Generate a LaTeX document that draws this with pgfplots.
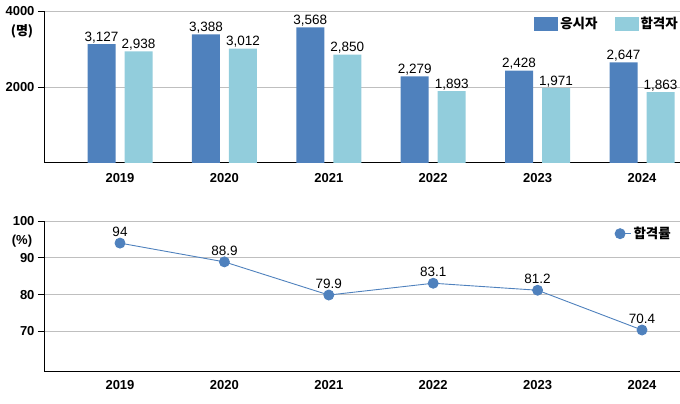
\documentclass[border=0pt]{standalone}
\usepackage{fontspec}
\setmainfont{Liberation Sans}
\newfontfamily\kr{Noto Sans CJK KR}
\usepackage{pgfplots}
\pgfplotsset{compat=1.18}
\definecolor{dkb}{HTML}{4F81BD}
\definecolor{ltb}{HTML}{92CDDC}
\definecolor{grd}{HTML}{BFBFBF}
\begin{document}
\begin{tikzpicture}[x=1pt,y=1pt]
\useasboundingbox (0,0) rectangle (680,404);
\pgfplotsset{common/.style={
 scale only axis, width=636pt, xmin=-0.728, xmax=5.364,
 xtick={0,...,5}, xticklabels={2019,2020,2021,2022,2023,2024},
 xtick style={draw=none},
 axis x line*=bottom, axis y line*=left, axis line style={-, black, line width=1pt},
 ymajorgrids, grid style={grd, line width=0.8pt},
 tick align=outside, major tick length=6pt, ytick style={black, line width=0.8pt},
 ticklabel style={font=\fontsize{13}{15}\selectfont\bfseries},
 /pgf/number format/assume math mode=true,
 /pgf/number format/1000 sep={,},
 yticklabel style={/pgf/number format/1000 sep={}},
 clip=false,
}}
\begin{axis}[common, at={(44pt,241pt)}, anchor=south west, height=152pt,
 ymin=0, ymax=4000, ytick={2000,4000},
 legend style={at={(1,1)}, anchor=north east, yshift=-4pt, draw=none, fill=none,
   legend columns=2, font=\kr\fontsize{13.5}{15}\selectfont\bfseries,
   /tikz/every even column/.style={column sep=15pt}, inner sep=0pt, cells={anchor=west}},
 xticklabel style={yshift=-1pt}]
\addplot[ybar, bar width=28pt, bar shift=-18.5pt, fill=dkb, draw=none,
  nodes near coords, nodes near coords style={font=\fontsize{13.5}{15}\selectfont, black, inner sep=1pt, xshift=-18.5pt},
  legend image code/.code={\fill[dkb] (0pt,-7pt) rectangle (24pt,7pt);}]
  coordinates {(0,3127)(1,3388)(2,3568)(3,2279)(4,2428)(5,2647)};
\addlegendentry{응시자}
\addplot[ybar, bar width=28pt, bar shift=18.5pt, fill=ltb, draw=none,
  nodes near coords, nodes near coords style={font=\fontsize{13.5}{15}\selectfont, black, inner sep=1pt, xshift=18.5pt},
  legend image code/.code={\fill[ltb] (0pt,-7pt) rectangle (24pt,7pt);}]
  coordinates {(0,2938)(1,3012)(2,2850)(3,1893)(4,1971)(5,1863)};
\addlegendentry{합격자}
\node[font=\kr\fontsize{13}{15}\selectfont\bfseries] at (rel axis cs:0,1) [xshift=-22pt, yshift=-20pt] {(명)};
\end{axis}
\begin{axis}[common, at={(44pt,32pt)}, anchor=south west, height=151pt,
 ymin=59, ymax=100, ytick={70,80,90,100},
 legend style={at={(1,1)}, anchor=north east, yshift=-4pt, xshift=-7pt, draw=none, fill=none,
   font=\kr\fontsize{13.5}{15}\selectfont\bfseries, inner sep=0pt, cells={anchor=west}},
 xticklabel style={yshift=1pt}]
\addplot[dkb, line width=0.9pt, mark=*, mark size=5pt, mark options={fill=dkb, draw=dkb},
  nodes near coords, nodes near coords style={font=\fontsize{13.5}{15}\selectfont, black, inner sep=1pt, yshift=5pt},
  legend image code/.code={\fill[dkb] (5pt,0pt) circle (5pt); \path (0pt,0pt) -- (16pt,0pt);}]
  coordinates {(0,94)(1,88.9)(2,79.9)(3,83.1)(4,81.2)(5,70.4)};
\addlegendentry{합격률}
\node[font=\fontsize{13}{15}\selectfont\bfseries] at (rel axis cs:0,1) [xshift=-22pt, yshift=-20pt] {(\%)};
\end{axis}
\end{tikzpicture}
\end{document}
